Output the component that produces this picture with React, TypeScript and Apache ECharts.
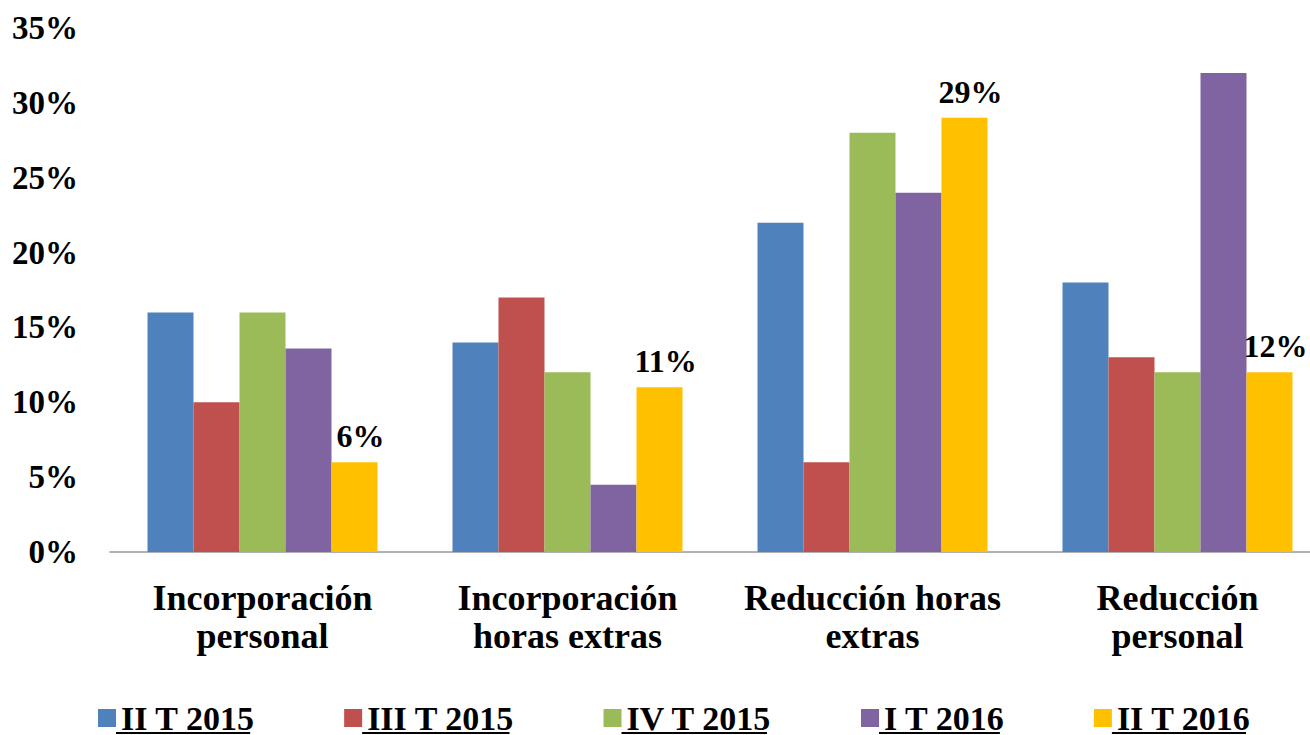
import React, { useEffect, useRef } from "react";
import * as echarts from "echarts";

const categories = [
  "Incorporación\npersonal",
  "Incorporación\nhoras extras",
  "Reducción horas\nextras",
  "Reducción\npersonal",
];
const seriesNames = ["II T 2015", "III T 2015", "IV T 2015", "I T 2016", "II T 2016"];
const iiT2015 = [16, 14, 22, 18];
const iiiT2015 = [10, 17, 6, 13];
const ivT2015 = [16, 12, 28, 12];
const iT2016 = [13.6, 4.5, 24, 32];
const iiT2016 = [6, 11, 29, 12];
const yTicks = [0, 5, 10, 15, 20, 25, 30, 35];

const colors = ["#4F81BD", "#C0504D", "#9BBB59", "#8064A2", "#FFC000"];
const FONT = "'Liberation Serif', 'Times New Roman', serif";

export default function App() {
  const ref = useRef<HTMLDivElement>(null);
  useEffect(() => {
    document.body.style.margin = "0";
    const chart = echarts.init(ref.current!, null, { renderer: "svg" });
    const values = [iiT2015, iiiT2015, ivT2015, iT2016, iiT2016];

    const legendLeft = 93;
    const itemW = 18;
    const itemGap = 89;
    const legendFont = 34;
    const cv = document.createElement("canvas");
    const ctx = cv.getContext("2d")!;
    ctx.font = `bold ${legendFont}px ${FONT}`;
    const lines: any[] = [];
    let x = legendLeft;
    seriesNames.forEach((n) => {
      const w = ctx.measureText(n).width;
      const sx = x + itemW + 5;
      lines.push({
        type: "line",
        shape: { x1: sx, y1: 733, x2: sx + w, y2: 733 },
        style: { stroke: "#000", lineWidth: 2 },
        silent: true,
      });
      x = sx + w + itemGap;
    });

    chart.setOption({
      animation: false,
      color: colors,
      textStyle: { fontFamily: FONT },
      grid: { left: 110, top: 28, width: 1220, height: 524 },
      legend: {
        left: legendLeft,
        top: 696,
        itemWidth: itemW,
        itemHeight: 18,
        itemGap: itemGap,
        icon: "rect",
        textStyle: {
          fontFamily: FONT,
          fontWeight: "bold",
          fontSize: legendFont,
          color: "#000",
        },
        data: seriesNames,
      },
      xAxis: {
        type: "category",
        data: categories,
        axisLine: { lineStyle: { color: "#999", width: 1.5 } },
        axisTick: { show: false },
        axisLabel: {
          fontFamily: FONT,
          fontWeight: "bold",
          fontSize: 36,
          lineHeight: 38,
          color: "#000",
          margin: 27,
          interval: 0,
        },
      },
      yAxis: {
        type: "value",
        min: 0,
        max: 35,
        interval: 5,
        splitLine: { show: false },
        axisLine: { show: false },
        axisTick: { show: false },
        axisLabel: {
          formatter: "{value}%",
          fontFamily: FONT,
          fontWeight: "bold",
          fontSize: 33,
          color: "#000",
          margin: 32,
        },
      },
      series: seriesNames.map((name, i) => ({
        name,
        type: "bar",
        data: values[i],
        barGap: "0%",
        barWidth: 46,
        label:
          i === 4
            ? {
                show: true,
                position: "top",
                distance: 10,
                formatter: "{c}%",
                fontFamily: FONT,
                fontWeight: "bold",
                fontSize: 32,
                color: "#000",
                offset: [6, 0],
              }
            : { show: false },
      })),
      graphic: lines,
    });
    return () => chart.dispose();
  }, []);
  return (
    <div style={{ position: "fixed", left: 0, top: 0, width: 1310, height: 735, overflow: "hidden", background: "#fff" }}>
      <div ref={ref} style={{ width: 1340, height: 735 }} />
    </div>
  );
}
